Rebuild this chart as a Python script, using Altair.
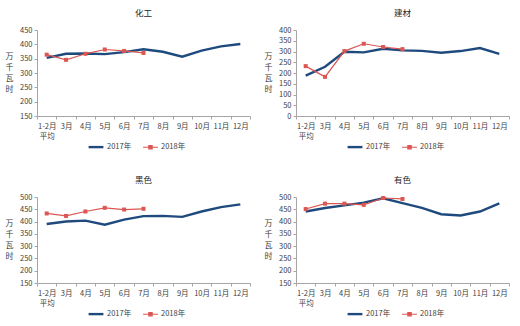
import altair as alt
import pandas as pd

months = ["1-2月", "3月", "4月", "5月", "6月", "7月", "8月", "9月", "10月", "11月", "12月"]
years = ["2017年", "2018年"]

chem_2017 = [353, 367, 368, 366, 373, 383, 374, 357, 378, 393, 401]
chem_2018 = [364, 346, 367, 382, 377, 370]
build_2017 = [188, 229, 299, 296, 313, 305, 303, 294, 302, 316, 289]
build_2018 = [232, 182, 302, 336, 321, 311]
black_2017 = [390, 400, 404, 387, 408, 422, 423, 419, 441, 459, 470]
black_2018 = [433, 423, 441, 456, 449, 452]
nonf_2017 = [441, 455, 466, 477, 495, 475, 456, 430, 425, 441, 474]
nonf_2018 = [451, 473, 473, 468, 496, 492]

FONT = "Noto Sans CJK SC"
C17 = "#1f4a7e"
C18 = "#dc5652"
W17, W18 = 2.4, 1.2
PW, PH = 213, 86

color_scale = alt.Scale(domain=years, range=[C17, C18])
width_scale = alt.Scale(domain=years, range=[W17, W18])
shape_scale = alt.Scale(domain=years, range=["M-1,0H1", "M-1,0H1M-0.22,-0.22H0.22V0.22H-0.22Z"])


def panel(title, v17, v18, ymin, ymax):
    rows = [{"month": m, "year": "2017年", "value": v} for m, v in zip(months, v17)]
    rows += [{"month": m, "year": "2018年", "value": v} for m, v in zip(months, v18)]
    df = pd.DataFrame(rows)
    base = alt.Chart(df)
    x = alt.X("month:O", sort=months,
              scale=alt.Scale(type="band", paddingInner=0, paddingOuter=0),
              axis=alt.Axis(title=None, labelAngle=0, tickBand="extent", grid=False,
                            labelExpr="datum.value == '1-2月' ? ['1-2月', '平均'] : datum.value",
                            labelFont=FONT, labelFontSize=7.5, labelColor="#404040",
                            labelLineHeight=10, labelPadding=3,
                            domainColor="#a6a6a6", tickColor="#a6a6a6", tickSize=3))
    y = alt.Y("value:Q",
              scale=alt.Scale(domain=[ymin, ymax], nice=False, zero=False),
              axis=alt.Axis(values=list(range(ymin, ymax + 1, 50)), grid=False,
                            title=["万", "千", "瓦", "时"], titleAngle=0, titleFont=FONT,
                            titleFontSize=8, titleFontWeight="normal", titleColor="#404040",
                            titleLineHeight=11, titleX=-28, titleY=PH / 2 - 16.5,
                            titleAlign="center", titleBaseline="middle",
                            labelFont=FONT, labelFontSize=7.5, labelColor="#404040",
                            labelPadding=2, domainColor="#a6a6a6", tickColor="#a6a6a6",
                            tickSize=3))
    line17 = base.transform_filter(alt.datum.year == "2017年").mark_line(
        color=C17, strokeWidth=W17).encode(x=x, y=y)
    line18 = base.transform_filter(alt.datum.year == "2018年").mark_line(
        color=C18, strokeWidth=W18).encode(x=x, y=y)
    squares = base.transform_filter(alt.datum.year == "2018年").mark_square(
        size=16, color=C18, opacity=1).encode(x=x, y=y)
    leg = alt.Legend(orient="none", legendX=50, legendY=PH + 22,
                     direction="horizontal", title=None,
                     labelFont=FONT, labelFontSize=7.5, labelColor="#404040",
                     symbolSize=220, columnPadding=8, symbolOpacity=1,
                     labelOffset=2)
    legend_layer = base.transform_filter("false").mark_point(
        filled=True, opacity=1, size=220).encode(
        x=x, y=y,
        fill=alt.Fill("year:N", scale=color_scale, legend=leg),
        stroke=alt.Stroke("year:N", scale=color_scale, legend=leg),
        shape=alt.Shape("year:N", scale=shape_scale, legend=leg),
        strokeWidth=alt.StrokeWidth("year:N", scale=width_scale, legend=leg),
    )
    return alt.layer(line17, line18, squares, legend_layer).properties(
        width=PW, height=PH,
        title=alt.TitleParams(title, font=FONT, fontSize=8.5, fontWeight="normal",
                              color="#262626", offset=9, anchor="middle"),
    )


p1 = panel("化工", chem_2017, chem_2018, 150, 450)
p2 = panel("建材", build_2017, build_2018, 0, 400)
p3 = panel("黑色", black_2017, black_2018, 150, 500)
p4 = panel("有色", nonf_2017, nonf_2018, 150, 500)

res_s = dict(stroke="independent", fill="independent", shape="independent",
             strokeWidth="independent")
row1 = alt.hconcat(p1, p2, spacing=13).resolve_scale(**res_s).resolve_legend(**res_s)
row2 = alt.hconcat(p3, p4, spacing=13).resolve_scale(**res_s).resolve_legend(**res_s)
chart = alt.vconcat(row1, row2, spacing=23).resolve_scale(**res_s).resolve_legend(**res_s).properties(
    padding={"left": 5, "top": 8, "right": 5, "bottom": 0},
    background="white",
).configure_view(stroke=None)

chart.save("out.html", embed_options={"renderer": "svg", "actions": False})
